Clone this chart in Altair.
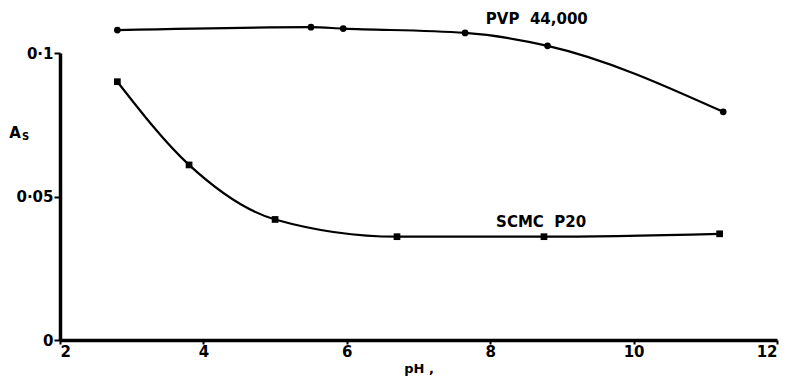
import altair as alt
import pandas as pd

# PVP 44,000 series
pvp_ph = [2.8, 5.5, 5.95, 7.65, 8.8, 11.25]
pvp_as = [0.108, 0.109, 0.1085, 0.107, 0.1025, 0.0795]
# SCMC P20 series
scmc_ph = [2.8, 3.8, 5.0, 6.7, 8.75, 11.2]
scmc_as = [0.090, 0.061, 0.042, 0.036, 0.036, 0.037]

# curve labels
label_text = ["PVP\u00a0\u00a044,000", "SCMC\u00a0\u00a0P20"]
label_ph = [8.65, 8.71]
label_as = [0.1118, 0.0412]

x_ticks = [2, 4, 6, 8, 10, 12]
y_ticks = [0, 0.05, 0.1]

pvp = pd.DataFrame({"pH": pvp_ph, "As": pvp_as, "series": "PVP"})
scmc = pd.DataFrame({"pH": scmc_ph, "As": scmc_as, "series": "SCMC"})
labels = pd.DataFrame({"pH": label_ph, "As": label_as, "text": label_text})

FONT = "DejaVu Sans"

xs = alt.Scale(domain=[2, 12], nice=False, zero=False)
ys = alt.Scale(domain=[0, 0.1], nice=False)

x_enc = alt.X("pH:Q", scale=xs, axis=alt.Axis(
    values=x_ticks, format="d", title="pH ,", grid=False, labelFontWeight="bold",
    labelFontSize=15, labelFont=FONT, labelPadding=0, tickSize=4,
    titleFont=FONT, titleFontSize=13, titleFontWeight="bold", titlePadding=3,
    labelColor="black", titleColor="black",
    domainColor="black", domainWidth=3.5, tickColor="black", tickWidth=2))
y_enc = alt.Y("As:Q", scale=ys, axis=alt.Axis(
    values=y_ticks, title=None, grid=False, labelFontWeight="bold",
    labelFontSize=15, labelFont=FONT, labelPadding=1, tickSize=6,
    labelColor="black",
    domainColor="black", domainWidth=3.5, tickColor="black", tickWidth=2,
    labelExpr="datum.value == 0 ? '0' : replace(format(datum.value, '.2~f'), '.', '·')"))

def series(df, shape):
    line = alt.Chart(df).mark_line(color="black", strokeWidth=2.2, interpolate="monotone").encode(x=x_enc, y=y_enc)
    pts = alt.Chart(df).mark_point(color="black", filled=True, opacity=1, size=45, shape=shape).encode(x=x_enc, y=y_enc)
    return line + pts

text = alt.Chart(labels).mark_text(font=FONT, fontSize=15, fontWeight="bold", color="black").encode(
    x=alt.X("pH:Q", scale=xs), y=alt.Y("As:Q", scale=ys), text="text:N")

ylab_a = alt.Chart(pd.DataFrame({"t": ["A"]})).mark_text(
    font=FONT, fontSize=15, fontWeight="bold", color="black", baseline="alphabetic").encode(
    x=alt.value(-45), y=alt.value(85), text="t:N")
ylab_s = alt.Chart(pd.DataFrame({"t": ["S"]})).mark_text(
    font=FONT, fontSize=10, fontWeight="bold", color="black", baseline="alphabetic").encode(
    x=alt.value(-34.5), y=alt.value(87), text="t:N")

chart = alt.layer(series(pvp, "circle"), series(scmc, "square"), text, ylab_a, ylab_s).properties(
    width=717, height=287,
    autosize=alt.AutoSizeParams(type="none"),
    padding={"left": 60, "top": 53, "right": 12, "bottom": 41},
    background="white",
).configure_view(stroke=None)

chart.save("out.html", embed_options={"renderer": "svg", "actions": False})
